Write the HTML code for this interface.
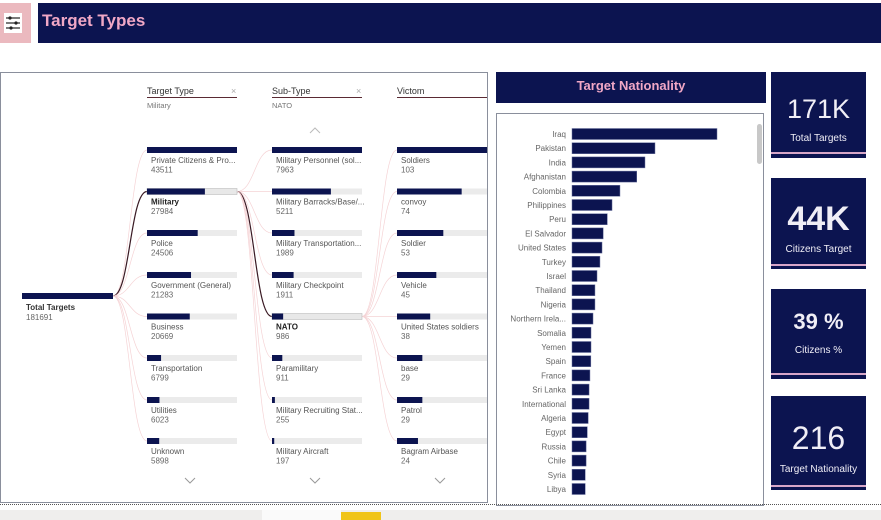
<!DOCTYPE html>
<html><head><meta charset="utf-8">
<style>
*{margin:0;padding:0;box-sizing:border-box}
body{width:881px;height:520px;background:#fff;position:relative;overflow:hidden;font-family:"Liberation Sans",sans-serif}
.abs{position:absolute}
.navy{background:#0c1450}
.kv{position:absolute;left:0;width:95px;text-align:center;color:#f0eef6}
</style></head>
<body>
<div class="abs" style="left:0;top:3px;width:31px;height:40px;background:#ebb9bf">
 <div class="abs" style="left:4px;top:10px;width:18px;height:20px;background:#fff"></div>
 <svg class="abs" style="left:4px;top:10px" width="18" height="20"><g stroke="#222" stroke-width="1.2"><line x1="2" y1="5" x2="16" y2="5"/><line x1="2" y1="10" x2="16" y2="10"/><line x1="2" y1="15" x2="16" y2="15"/></g><g fill="#222"><circle cx="6" cy="5" r="1.6"/><circle cx="12" cy="10" r="1.6"/><circle cx="7" cy="15" r="1.6"/></g></svg>
</div>
<div class="abs navy" style="left:38px;top:3px;width:843px;height:40px">
 <div class="abs" style="left:4px;top:8px;font-size:17px;font-weight:bold;color:#f1a8c6">Target Types</div>
</div>

<div class="abs" style="left:0;top:72px;width:488px;height:431px;border:1px solid #8a8f9c;overflow:hidden">
 <svg id="tree" class="abs" style="left:-1px;top:-73px" width="488" height="520" viewBox="0 0 488 520"></svg>
</div>

<div class="abs navy" style="left:496px;top:72px;width:270px;height:31px;text-align:center;color:#f1a8c6;font-weight:bold;font-size:13px;line-height:28px">Target Nationality</div>
<div class="abs" style="left:496px;top:113px;width:268px;height:393px;border:1px solid #8a8f9c">
 <svg id="bar" class="abs" style="left:-497px;top:-114px" width="800" height="520"></svg>
 <div class="abs" style="left:260px;top:10px;width:5px;height:40px;background:#c8c8c8;border-radius:3px"></div>
</div>

<div class="abs navy" style="left:771px;top:72px;width:95px;height:86px">
 <div class="kv" style="top:22px;font-size:27px">171K</div><div class="kv" style="top:61px;font-size:10px">Total Targets</div>
 <div class="abs" style="left:0;top:80px;width:95px;height:2px;background:#d7a6c8"></div></div>
<div class="abs navy" style="left:771px;top:178px;width:95px;height:91px">
 <div class="kv" style="top:22px;font-size:34px;font-weight:bold">44K</div><div class="kv" style="top:66px;font-size:10px">Citizens Target</div>
 <div class="abs" style="left:0;top:86px;width:95px;height:2px;background:#d7a6c8"></div></div>
<div class="abs navy" style="left:771px;top:289px;width:95px;height:90px">
 <div class="kv" style="top:20px;font-size:22px;font-weight:bold">39 %</div><div class="kv" style="top:56px;font-size:10px">Citizens %</div>
 <div class="abs" style="left:0;top:84px;width:95px;height:2px;background:#d7a6c8"></div></div>
<div class="abs navy" style="left:771px;top:396px;width:95px;height:94px">
 <div class="kv" style="top:24px;font-size:32px">216</div><div class="kv" style="top:68px;font-size:10px">Target Nationality</div>
 <div class="abs" style="left:0;top:89px;width:95px;height:2px;background:#d7a6c8"></div></div>

<div class="abs" style="left:0;top:504px;width:881px;border-top:1px dotted #555"></div>
<div class="abs" style="left:0;top:510px;width:881px;height:10px;background:#efeeed"></div>
<div class="abs" style="left:262px;top:510px;width:79px;height:10px;background:#fafafa"></div>
<div class="abs" style="left:341px;top:512px;width:40px;height:8px;background:#f0c419"></div>

<script>
const NS="http://www.w3.org/2000/svg";
function mk(p,tag,a){const e=document.createElementNS(NS,tag);for(const k in a)e.setAttribute(k,a[k]);p.appendChild(e);return e;}
// ---- nationality bar chart ----
const countries=["Iraq","Pakistan","India","Afghanistan","Colombia","Philippines","Peru","El Salvador","United States","Turkey","Israel","Thailand","Nigeria","Northern Irela...","Somalia","Yemen","Spain","France","Sri Lanka","International","Algeria","Egypt","Russia","Chile","Syria","Libya"];
const counts=[24636,14100,12400,11000,8150,6800,6000,5300,5100,4750,4250,3900,3900,3570,3230,3230,3200,3050,2900,2900,2750,2600,2400,2400,2250,2250];
const bar=document.getElementById('bar');
const x0=572,xw=145,y0=134,step=14.2,bh=11;
const xs=v=>v/counts[0]*xw;
countries.forEach((c,i)=>{
 const y=y0+i*step;
 const r=mk(bar,'rect',{x:x0,y:y-bh/2,width:xs(counts[i]),height:bh,fill:'#0c1450',stroke:'#6b73a0','stroke-width':0.5});
 
 
 const t=mk(bar,'text',{x:x0-6,y:y+3,'text-anchor':'end','font-size':8,fill:'#666','font-family':'Liberation Sans, sans-serif'});
 t.textContent=c;
 
 
});
// ---- decomposition tree ----
const col1Names=["Private Citizens & Pro...","Military","Police","Government (General)","Business","Transportation","Utilities","Unknown"];
const col1Vals=[43511,27984,24506,21283,20669,6799,6023,5898];
const col2Names=["Military Personnel (sol...","Military Barracks/Base/...","Military Transportation...","Military Checkpoint","NATO","Paramilitary","Military Recruiting Stat...","Military Aircraft"];
const col2Vals=[7963,5211,1989,1911,986,911,255,197];
const col3Names=["Soldiers","convoy","Soldier","Vehicle","United States soldiers","base","Patrol","Bagram Airbase"];
const col3Vals=[103,74,53,45,38,29,29,24];
const tree=document.getElementById('tree');
const rowY=[147,188.5,230,272,313.5,355,397,438];
const cols=[{x:147,w:90,n:col1Names,v:col1Vals,sel:1,title:"Target Type",sub:"Military"},
            {x:272,w:90,n:col2Names,v:col2Vals,sel:4,title:"Sub-Type",sub:"NATO"},
            {x:397,w:90,n:col3Names,v:col3Vals,sel:-1,title:"Victom",sub:""}];
function link(x1,y1,x2,y2,dark){const mx=(x1+x2)/2;
 mk(tree,'path',{d:`M${x1},${y1} C${mx},${y1} ${mx},${y2} ${x2},${y2}`,fill:'none',stroke:dark?'#3a1a24':'#f5d3d5','stroke-width':dark?1.2:0.7});}
col1Vals.forEach((v,i)=>link(113,296,147,rowY[i]+3,i===1));
col2Vals.forEach((v,i)=>link(237,rowY[1]+3,272,rowY[i]+3,i===4));
col3Vals.forEach((v,i)=>link(362,rowY[4]+3,397,rowY[i]+3,false));
mk(tree,'rect',{x:22,y:293,width:91,height:6,fill:'#0c1450'});
const tt=mk(tree,'text',{x:26,y:310,'font-size':8,'font-weight':'bold',fill:'#333'});tt.textContent="Total Targets";
const tv=mk(tree,'text',{x:26,y:320,'font-size':8,fill:'#666'});tv.textContent="181691";
cols.forEach((c,ci)=>{
 const h=mk(tree,'text',{x:c.x,y:94,'font-size':9,fill:'#333'});h.textContent=c.title;
 
 
 mk(tree,'line',{x1:c.x,y1:97.5,x2:c.x+90,y2:97.5,stroke:'#5a2a33','stroke-width':1});
 if(ci<2){const x=mk(tree,'text',{x:c.x+84,y:94,'font-size':9,fill:'#aaa'});x.textContent="×";}
 if(c.sub){const s=mk(tree,'text',{x:c.x,y:108,'font-size':7.5,fill:'#777'});s.textContent=c.sub;}
 const mx=Math.max(...c.v);
 c.v.forEach((v,i)=>{
  const y=rowY[i];const sel=i===c.sel;
  mk(tree,'rect',{x:c.x,y:y,width:c.w,height:6,fill:sel?'#e8e8e8':'#ebebeb',stroke:sel?'#bbb':'none','stroke-width':0.6});
  const b=mk(tree,'rect',{x:c.x,y:y,width:v/mx*c.w,height:6,fill:'#0c1450'});
  
  
  const l=mk(tree,'text',{x:c.x+4,y:y+16,'font-size':8,fill:sel?'#222':'#555','font-weight':sel?'bold':'normal'});l.textContent=c.n[i];
  const vv=mk(tree,'text',{x:c.x+4,y:y+25.5,'font-size':8,fill:'#666'});vv.textContent=v;
 });
 const cx=c.x+43;
 mk(tree,'path',{d:`M${cx-5},${478} L${cx},${483} L${cx+5},${478}`,fill:'none',stroke:'#999','stroke-width':1});
});
mk(tree,'path',{d:`M${310},${133} L${315},${128} L${320},${133}`,fill:'none',stroke:'#bbb','stroke-width':1});
</script>
</body></html>
